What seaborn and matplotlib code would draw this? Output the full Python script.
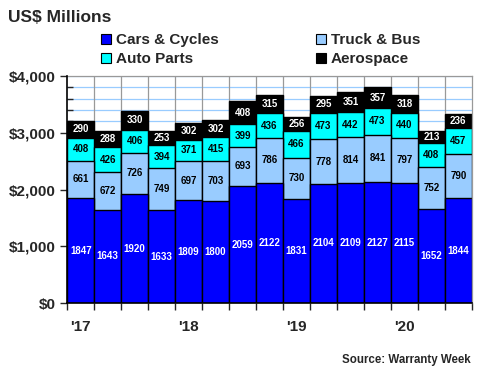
import numpy as np
import pandas as pd
import matplotlib
matplotlib.use("Agg")
import matplotlib.pyplot as plt
from matplotlib.patches import Patch
from matplotlib.ticker import MultipleLocator, FixedLocator, FuncFormatter
import seaborn as sns

quarters = ["1Q17", "2Q17", "3Q17", "4Q17", "1Q18", "2Q18", "3Q18", "4Q18",
            "1Q19", "2Q19", "3Q19", "4Q19", "1Q20", "2Q20", "3Q20"]
cars = [1847, 1643, 1920, 1633, 1809, 1800, 2059, 2122, 1831, 2104, 2109, 2127, 2115, 1652, 1844]
truck = [661, 672, 726, 749, 697, 703, 693, 786, 730, 778, 814, 841, 797, 752, 790]
parts = [408, 426, 406, 394, 371, 415, 399, 436, 466, 473, 442, 473, 440, 408, 457]
aero = [290, 288, 330, 253, 302, 302, 408, 315, 256, 295, 351, 357, 318, 213, 236]
year_labels = ["'17", "'18", "'19", "'20"]
year_pos = [0, 4, 8, 12]

segments = ["Cars & Cycles", "Truck & Bus", "Auto Parts", "Aerospace"]
colors = {"Cars & Cycles": "#0000FF", "Truck & Bus": "#99CCFF",
          "Auto Parts": "#00FFFF", "Aerospace": "#000000"}
text_colors = {"Cars & Cycles": "white", "Truck & Bus": "black",
               "Auto Parts": "black", "Aerospace": "white"}

df = pd.DataFrame({"quarter": quarters, "Cars & Cycles": cars, "Truck & Bus": truck,
                   "Auto Parts": parts, "Aerospace": aero})
cum = df[segments].cumsum(axis=1)

sns.set_style("white")
plt.rcParams["font.family"] = ["Liberation Sans", "DejaVu Sans"]
plt.rcParams["font.weight"] = "bold"

fig = plt.figure(figsize=(4.8, 3.8), dpi=100)
ax = fig.add_axes([0.14, 0.2026, 0.843, 0.5974])

# background grid
for y in range(200, 4001, 200):
    ax.axhline(y, color="#99CCFF", lw=0.9, zorder=0)
for x in np.arange(0.5, 14.5, 1):
    ax.axvline(x, color="#999999", lw=0.9, zorder=0)

# stacked bars: draw cumulative totals from top down
for seg in reversed(segments):
    sns.barplot(x=df["quarter"], y=cum[seg], color=colors[seg], width=1.0,
                edgecolor="black", linewidth=1.0, saturation=1, ax=ax, zorder=2)

# value labels in the middle of each segment
for seg in segments:
    bottoms = cum[seg] - df[seg]
    for i, v in enumerate(df[seg]):
        ax.text(i, bottoms[i] + v / 2, str(v), ha="center", va="center",
                fontsize=7, fontweight="bold", color=text_colors[seg], zorder=3)

ax.set_xlim(-0.5, 14.5)
ax.set_ylim(0, 4000)
ax.set_xlabel("")
ax.set_ylabel("")

ax.yaxis.set_major_locator(MultipleLocator(1000))
ax.yaxis.set_minor_locator(MultipleLocator(200))
ax.yaxis.set_major_formatter(FuncFormatter(lambda v, p: f"${v:,.0f}"))
ax.tick_params(axis="y", which="major", direction="out", length=5, width=1,
               labelsize=11, pad=3, left=True)
ax.tick_params(axis="y", which="minor", direction="in", length=4, width=1, left=True)
for lab in ax.get_yticklabels():
    lab.set_fontweight("bold")

ax.xaxis.set_major_locator(FixedLocator(np.arange(-0.5, 15, 1)))
ax.xaxis.set_major_formatter(FuncFormatter(lambda v, p: ""))
ax.xaxis.set_minor_locator(FixedLocator(year_pos))
ax.set_xticklabels(year_labels, minor=True)
ax.tick_params(axis="x", which="major", direction="out", length=5, width=1, bottom=True)
ax.tick_params(axis="x", which="minor", length=0, labelsize=11, pad=12)
for lab in ax.get_xticklabels(minor=True):
    lab.set_fontweight("bold")

for s in ["left", "bottom"]:
    ax.spines[s].set_color("black")
    ax.spines[s].set_linewidth(1.2)
for s in ["top", "right"]:
    ax.spines[s].set_color("#999999")
    ax.spines[s].set_linewidth(0.9)
ax.spines["left"].set_zorder(4)
ax.spines["bottom"].set_zorder(4)

# legend fills column-wise, so order handles to give rows Cars/Truck, Parts/Aero
legend_order = ["Cars & Cycles", "Auto Parts", "Truck & Bus", "Aerospace"]
handles = [Patch(facecolor=colors[s], edgecolor="black", linewidth=0.8, label=s)
           for s in legend_order]
fig.legend(handles=handles, loc="upper left", bbox_to_anchor=(0.211, 0.912), ncol=2,
           frameon=False, handlelength=0.65, handleheight=0.65,
           handletextpad=0.3, columnspacing=6.4, labelspacing=0.32,
           borderaxespad=0, borderpad=0, prop={"weight": "bold", "size": 11})

fig.text(0.017, 0.955, "US$ Millions", fontsize=12.5, fontweight="bold",
         ha="left", va="center")
fig.text(0.98, 0.052, "Source: Warranty Week", fontsize=8.3, fontweight="bold",
         ha="right", va="center")

fig.savefig("out.png", dpi=100)
